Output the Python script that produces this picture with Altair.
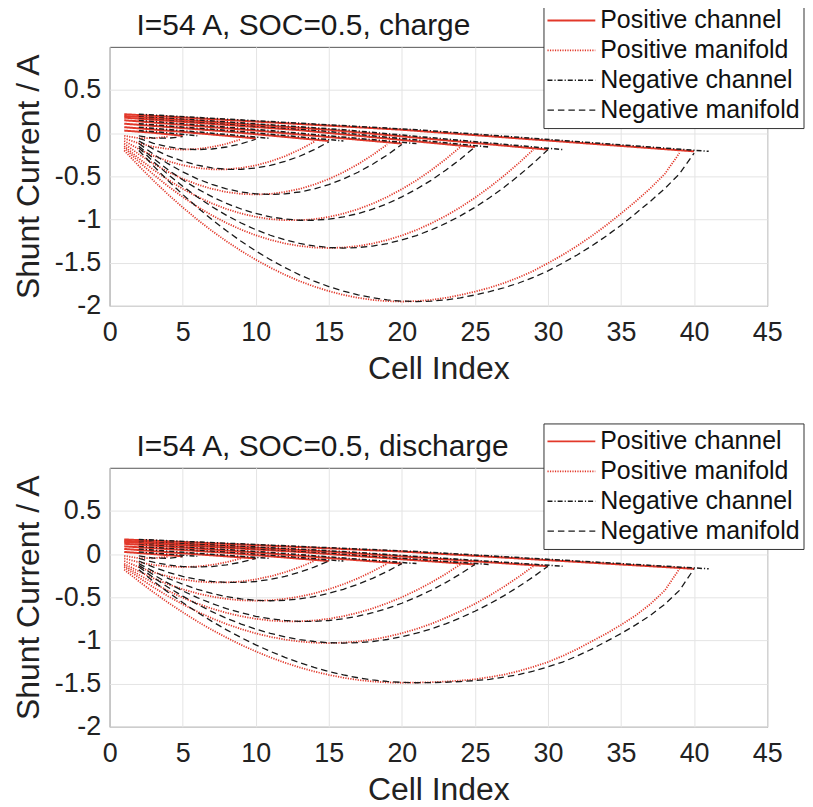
import altair as alt
import pandas as pd

FONT = "Liberation Sans"
RED = "#e2382a"
BLACK = "#1a1a1a"

STACK_SIZES = [5, 10, 15, 20, 25, 30, 40]
SERIES = ["Positive channel", "Positive manifold", "Negative channel", "Negative manifold"]
X_TICKS = [0, 5, 10, 15, 20, 25, 30, 35, 40, 45]
Y_TICKS = [-2, -1.5, -1, -0.5, 0, 0.5]

# ---- charge: positive manifold current, cells 1 .. N-1 (negative manifold: cells 2 .. N)
charge_manifold_n5 = [-0.03, -0.057, -0.058, -0.04]
charge_manifold_n10 = [-0.06, -0.117, -0.158, -0.182, -0.19, -0.183, -0.16, -0.123, -0.07]
charge_manifold_n15 = [-0.09, -0.184, -0.262, -0.324, -0.371, -0.402, -0.418, -0.418, -0.403,
                       -0.373, -0.327, -0.267, -0.191, -0.10]
charge_manifold_n20 = [-0.12, -0.244, -0.353, -0.448, -0.528, -0.593, -0.645, -0.681, -0.703,
                       -0.71, -0.703, -0.681, -0.646, -0.595, -0.531, -0.452, -0.359, -0.252, -0.13]
charge_manifold_n25 = [-0.15, -0.293, -0.423, -0.540, -0.644, -0.735, -0.813, -0.878, -0.930,
                       -0.969, -0.995, -1.008, -1.008, -0.996, -0.970, -0.931, -0.880, -0.816,
                       -0.738, -0.648, -0.546, -0.430, -0.301, -0.16]
charge_manifold_n30 = [-0.17, -0.330, -0.478, -0.614, -0.738, -0.851, -0.951, -1.040, -1.117,
                       -1.182, -1.235, -1.277, -1.306, -1.324, -1.33, -1.324, -1.307, -1.278,
                       -1.237, -1.185, -1.121, -1.045, -0.958, -0.859, -0.748, -0.626, -0.492,
                       -0.347, -0.19]
charge_manifold_n40 = [-0.20, -0.379, -0.549, -0.709, -0.859, -1.000, -1.131, -1.252, -1.363,
                       -1.465, -1.557, -1.640, -1.713, -1.776, -1.829, -1.873, -1.906, -1.931,
                       -1.945, -1.95, -1.945, -1.931, -1.907, -1.874, -1.835, -1.79, -1.735,
                       -1.67, -1.595, -1.505, -1.41, -1.305, -1.19, -1.065, -0.93, -0.79, -0.64,
                       -0.47, -0.23]

# ---- discharge
discharge_manifold_n5 = [-0.02, -0.047, -0.048, -0.03]
discharge_manifold_n10 = [-0.05, -0.094, -0.125, -0.144, -0.15, -0.144, -0.125, -0.094, -0.05]
discharge_manifold_n15 = [-0.08, -0.151, -0.210, -0.258, -0.293, -0.317, -0.328, -0.328, -0.317,
                          -0.293, -0.258, -0.210, -0.151, -0.08]
discharge_manifold_n20 = [-0.11, -0.200, -0.280, -0.349, -0.407, -0.455, -0.492, -0.519, -0.535,
                          -0.54, -0.535, -0.519, -0.492, -0.455, -0.407, -0.349, -0.280, -0.200,
                          -0.11]
discharge_manifold_n25 = [-0.13, -0.238, -0.336, -0.425, -0.504, -0.572, -0.631, -0.680, -0.720,
                          -0.749, -0.769, -0.779, -0.779, -0.769, -0.749, -0.719, -0.679, -0.629,
                          -0.569, -0.499, -0.419, -0.330, -0.230, -0.12]
discharge_manifold_n30 = [-0.15, -0.271, -0.384, -0.487, -0.581, -0.666, -0.743, -0.810, -0.868,
                          -0.918, -0.958, -0.990, -1.012, -1.026, -1.03, -1.025, -1.012, -0.989,
                          -0.957, -0.916, -0.867, -0.808, -0.739, -0.662, -0.576, -0.481, -0.376,
                          -0.263, -0.14]
discharge_manifold_n40 = [-0.18, -0.314, -0.441, -0.561, -0.673, -0.779, -0.877, -0.967, -1.051,
                          -1.127, -1.196, -1.258, -1.312, -1.359, -1.399, -1.432, -1.457, -1.475,
                          -1.486, -1.49, -1.488, -1.484, -1.476, -1.465, -1.45, -1.425, -1.395,
                          -1.355, -1.305, -1.25, -1.18, -1.10, -1.01, -0.92, -0.82, -0.71, -0.58,
                          -0.42, -0.17]

# ---- channel currents (positive channel: first cell 1, last cell N; negative channel: shifted by one)
channel_mid_cell = [3, 5, 8, 10, 13, 15, 20]
charge_channel_start = [0.03, 0.07, 0.11, 0.15, 0.18, 0.20, 0.22]
charge_channel_mid = [0.005, 0.015, 0.02, 0.03, 0.035, 0.04, 0.04]
charge_channel_end = [-0.03, -0.06, -0.09, -0.12, -0.16, -0.19, -0.21]
discharge_channel_start = [0.025, 0.06, 0.09, 0.12, 0.14, 0.155, 0.17]
discharge_channel_mid = [0.0, 0.01, 0.015, 0.02, 0.025, 0.03, 0.03]
discharge_channel_end = [-0.025, -0.05, -0.08, -0.11, -0.12, -0.14, -0.17]

charge_manifolds = [charge_manifold_n5, charge_manifold_n10, charge_manifold_n15, charge_manifold_n20,
                    charge_manifold_n25, charge_manifold_n30, charge_manifold_n40]
discharge_manifolds = [discharge_manifold_n5, discharge_manifold_n10, discharge_manifold_n15,
                       discharge_manifold_n20, discharge_manifold_n25, discharge_manifold_n30,
                       discharge_manifold_n40]


def build_frame(manifolds, ch_start, ch_mid, ch_end):
    rows = []
    for i, n in enumerate(STACK_SIZES):
        ch_cells = [1, channel_mid_cell[i], n]
        ch_vals = [ch_start[i], ch_mid[i], ch_end[i]]
        for c, v in zip(ch_cells, ch_vals):
            rows.append({"stack": n, "series": SERIES[0], "cell": c, "current": v})
            rows.append({"stack": n, "series": SERIES[2], "cell": c + 1, "current": v})
        for k, v in enumerate(manifolds[i]):
            rows.append({"stack": n, "series": SERIES[1], "cell": k + 1, "current": v})
            rows.append({"stack": n, "series": SERIES[3], "cell": k + 2, "current": v})
    return pd.DataFrame(rows)


charge_df = build_frame(charge_manifolds, charge_channel_start, charge_channel_mid, charge_channel_end)
discharge_df = build_frame(discharge_manifolds, discharge_channel_start, discharge_channel_mid,
                           discharge_channel_end)

Y_LABEL_EXPR = "datum.value < 0 ? '-' + format(-datum.value, '~g') : format(datum.value, '~g')"


def panel(df, title):
    return alt.Chart(df).mark_line(clip=True).encode(
        x=alt.X("cell:Q",
                scale=alt.Scale(domain=[0, 45], nice=False, zero=False),
                axis=alt.Axis(values=X_TICKS, title="Cell Index", labelPadding=14, titlePadding=8,
                              labelFlush=False)),
        y=alt.Y("current:Q",
                scale=alt.Scale(domain=[-2, 1], nice=False, zero=False),
                axis=alt.Axis(values=Y_TICKS, title="Shunt Current / A", labelExpr=Y_LABEL_EXPR,
                              labelPadding=9, titlePadding=9, labelFlush=False)),
        color=alt.Color("series:N", scale=alt.Scale(domain=SERIES, range=[RED, RED, BLACK, BLACK]),
                        legend=alt.Legend(title=None)),
        strokeDash=alt.StrokeDash("series:N",
                                  scale=alt.Scale(domain=SERIES,
                                                  range=[[1, 0], [1.2, 1.3], [5, 2, 1.2, 2], [6.5, 4]]),
                                  legend=alt.Legend(title=None)),
        strokeWidth=alt.StrokeWidth("series:N",
                                    scale=alt.Scale(domain=SERIES, range=[2.0, 1.3, 1.5, 1.4]),
                                    legend=None),
        detail="stack:N",
    ).properties(
        width=660,
        height=260,
        title=alt.TitleParams(title, fontSize=30, font=FONT, fontWeight="normal", anchor="start",
                              dx=27, dy=78.5, frame="group", offset=15, baseline="alphabetic",
                              color="#1a1a1a"),
    )


chart = alt.vconcat(
    panel(charge_df, "I=54 A, SOC=0.5, charge"),
    panel(discharge_df, "I=54 A, SOC=0.5, discharge"),
    spacing=162.5,
    bounds="flush",
).resolve_scale(
    color="independent", strokeDash="independent", strokeWidth="independent"
).properties(
    padding={"left": 3, "top": -8.5, "right": 0, "bottom": 0},
    background="white",
).configure(
    font=FONT,
).configure_view(
    stroke="#555555", strokeWidth=1,
).configure_axis(
    grid=True, gridColor="#e4e4e4", gridWidth=1, domain=False, ticks=False, tickSize=0,
    labelFont=FONT, labelFontSize=27, labelColor="#222222",
    titleFont=FONT, titleFontSize=32, titleFontWeight="normal", titleColor="#222222",
).configure_legend(
    orient="none", legendX=435.5, legendY=-44.5, padding=3, fillColor="white",
    strokeColor="#333333", symbolType="stroke", symbolSize=2304, symbolStrokeWidth=1.6,
    labelFont=FONT, labelFontSize=25, labelColor="#111111", labelOffset=4, rowPadding=0,
    clipHeight=30, labelLimit=400, cornerRadius=0,
)

chart.save("out.html", embed_options={"renderer": "svg", "actions": False})
